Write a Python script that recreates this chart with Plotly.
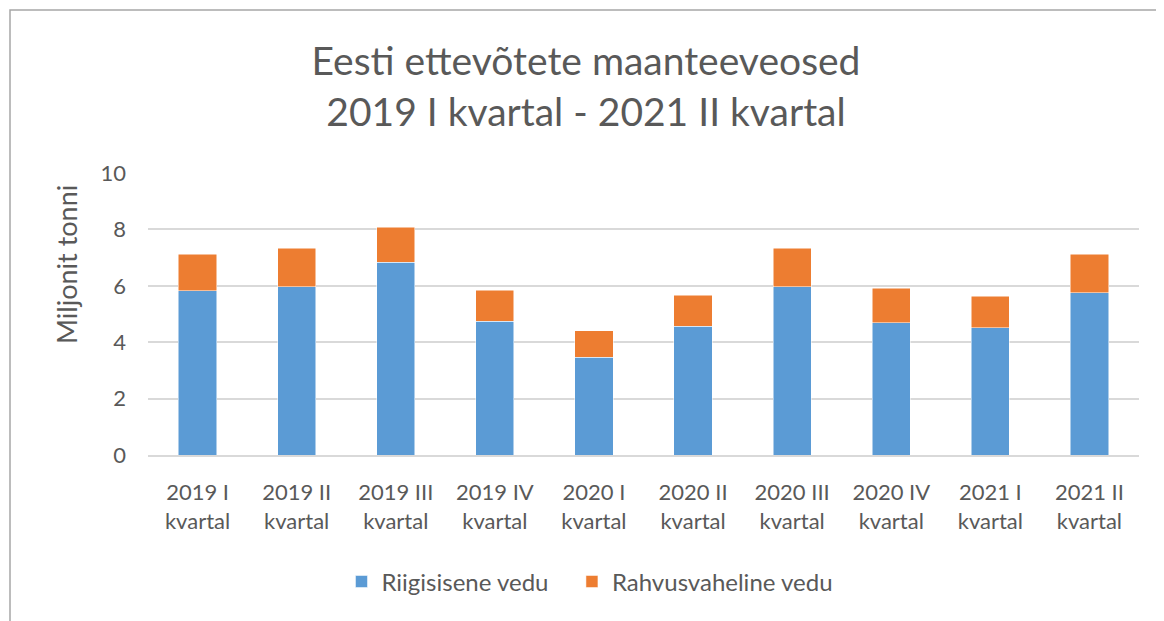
import plotly.graph_objects as go

categories = ["2019 I<br>kvartal", "2019 II<br>kvartal", "2019 III<br>kvartal", "2019 IV<br>kvartal",
              "2020 I<br>kvartal", "2020 II<br>kvartal", "2020 III<br>kvartal", "2020 IV<br>kvartal",
              "2021 I<br>kvartal", "2021 II<br>kvartal"]
riigisisene = [5.82, 5.96, 6.83, 4.75, 3.47, 4.57, 5.96, 4.69, 4.52, 5.75]
rahvusvaheline = [1.30, 1.37, 1.25, 1.10, 0.93, 1.09, 1.38, 1.22, 1.11, 1.37]
y_ticks = [0, 2, 4, 6, 8, 10]

FONT = "Lato"
GREY = "#595959"

fig = go.Figure()
fig.add_trace(go.Bar(x=categories, y=riigisisene, name="Riigisisene vedu\u00a0\u00a0\u00a0",
                     marker=dict(color="#5b9bd5", line=dict(color="#ffffff", width=0.5))))
fig.add_trace(go.Bar(x=categories, y=rahvusvaheline, name="Rahvusvaheline vedu",
                     marker=dict(color="#ed7d31", line=dict(color="#ffffff", width=0.5))))

# page body has an 8px margin, so the figure is sized/offset to compensate
fig.update_layout(
    barmode="stack",
    bargap=0.615,
    width=1156, height=613,
    paper_bgcolor="white", plot_bgcolor="white",
    margin=dict(l=140, r=25, t=165, b=166),
    font=dict(family=FONT, color=GREY, size=22),
    title=dict(text="Eesti ettevõtete maanteeveosed<br>2019 I kvartal - 2021 II kvartal",
               x=0.5, xanchor="center", y=1 - 67 / 613, yanchor="middle",
               font=dict(family=FONT, size=39, color=GREY)),
    legend=dict(orientation="h", x=0.446, xanchor="center", y=-0.45, yanchor="middle",
                font=dict(size=24, color=GREY), traceorder="normal", itemwidth=30),
    showlegend=True,
)
fig.update_yaxes(range=[0, 10], tickvals=y_ticks, showgrid=True, gridcolor="#d9d9d9", gridwidth=1.5,
                 zeroline=False, showline=False, ticks="", tickfont=dict(size=22, color=GREY),
                 ticklabelstandoff=21)
fig.add_annotation(text="Miljonit tonni", textangle=-90, xref="paper", yref="paper",
                   x=(58 - 140) / 991, y=(447 - 257) / 282, xanchor="center", yanchor="middle",
                   showarrow=False, font=dict(size=27, color=GREY))
fig.update_xaxes(showline=True, linecolor="#d9d9d9", linewidth=1.5, ticks="",
                 ticklabelstandoff=17, tickfont=dict(size=22, color=GREY))
fig.add_shape(type="rect", xref="paper", yref="paper", x0=-138 / 991, x1=1.2, y0=-0.8, y1=1 + 163 / 282,
              line=dict(color="#a6a6a6", width=1.5), fillcolor="rgba(0,0,0,0)", layer="below")

fig.write_html("out.html")
